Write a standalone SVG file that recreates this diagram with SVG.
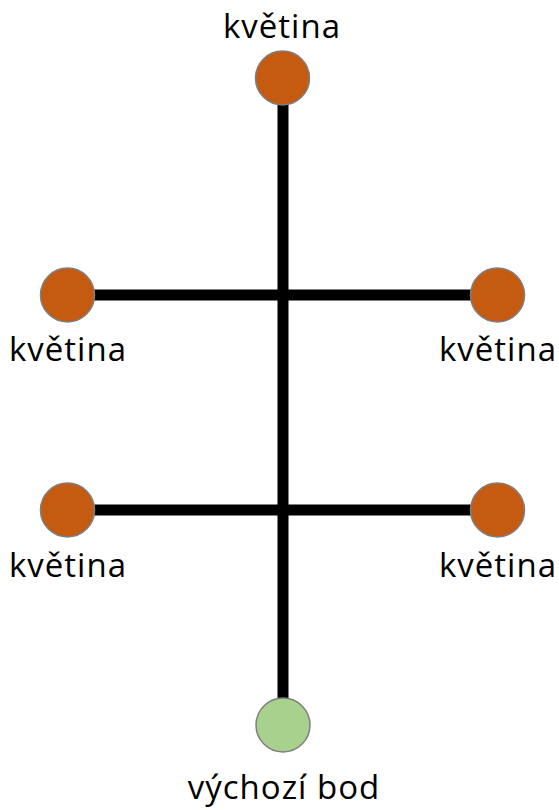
<svg xmlns="http://www.w3.org/2000/svg" width="559" height="810" viewBox="0 0 559 810">
<style>
.flower{fill:#C55A11;stroke:#7F7F7F;stroke-width:1.5}
.start{fill:#A9D18E;stroke:#7F7F7F;stroke-width:1.5}
.lbl{font-family:"Open Sans","DejaVu Sans",sans-serif;font-size:33px;letter-spacing:1px;fill:#000;text-anchor:middle}
.edge{stroke:#000;stroke-width:11;fill:none}
</style>
<rect width="559" height="810" fill="#fff"/>
<g id="connectors">
<line class="edge" x1="283" y1="100" x2="283" y2="702"/>
<line class="edge" x1="90" y1="295" x2="475" y2="295"/>
<line class="edge" x1="90" y1="510" x2="475" y2="510"/>
</g>
<g id="n-top"><circle class="flower" cx="282.5" cy="78" r="27"/><text class="lbl" x="282" y="38">květina</text></g>
<g id="n-l1"><circle class="flower" cx="67.5" cy="295" r="27"/><text class="lbl" x="68" y="361">květina</text></g>
<g id="n-r1"><circle class="flower" cx="497.5" cy="295" r="27"/><text class="lbl" x="498" y="361">květina</text></g>
<g id="n-l2"><circle class="flower" cx="67.5" cy="510" r="27"/><text class="lbl" x="68" y="577">květina</text></g>
<g id="n-r2"><circle class="flower" cx="497.5" cy="510" r="27"/><text class="lbl" x="498" y="577">květina</text></g>
<g id="n-start"><circle class="start" cx="283" cy="725" r="27"/><text class="lbl" x="284" y="799">výchozí bod</text></g>
</svg>
